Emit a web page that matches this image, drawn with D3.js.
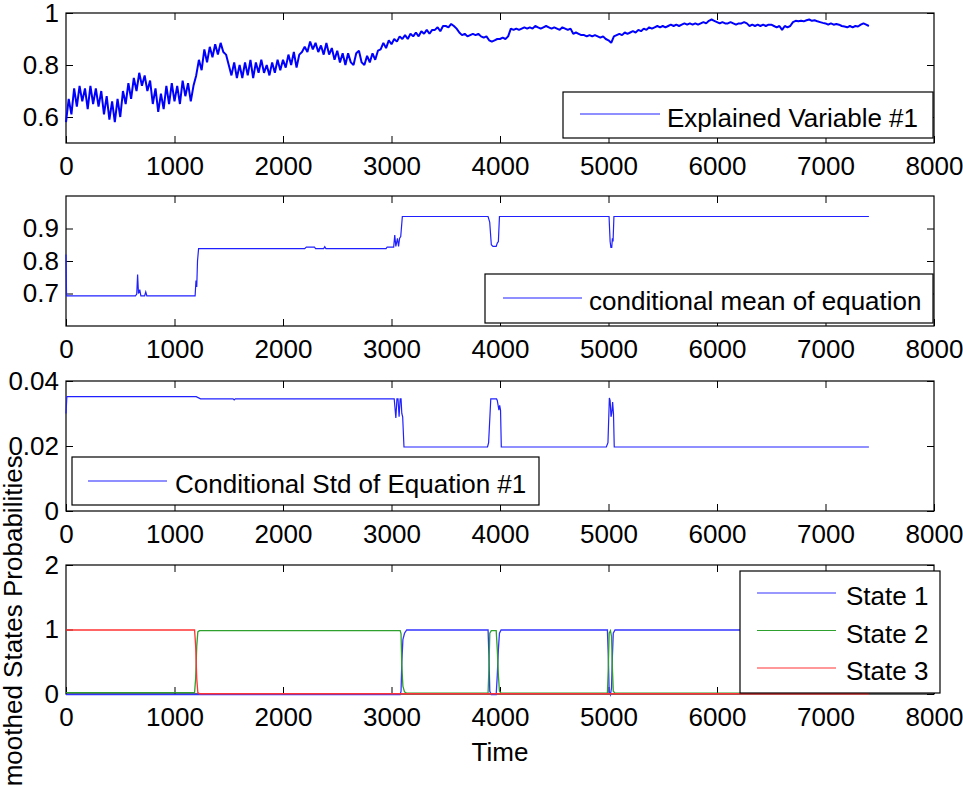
<!DOCTYPE html>
<html>
<head>
<meta charset="utf-8">
<script src="https://cdn.jsdelivr.net/npm/d3@7"></script>
<style>
  body { margin: 0; background: #fff; }
  svg text { font-family: "Liberation Sans", Arial, sans-serif; font-size: 26px; fill: #000; }
</style>
</head>
<body>
<svg id="chart" width="963" height="787"></svg>
<script>
// ---- shared x axis ----
const xTicks = [0, 1000, 2000, 3000, 4000, 5000, 6000, 7000, 8000];

// ---- panel 1: explained variable, sampled every 25 time steps ----
const explainedStep = 25;
const explainedValues = [
  0.58,0.67,0.61,0.71,0.64,0.72,0.66,0.71,0.63,0.72,0.65,0.71,0.64,0.70,0.61,0.68,0.59,0.66,0.58,0.67,
  0.60,0.70,0.65,0.73,0.67,0.75,0.70,0.77,0.72,0.76,0.70,0.74,0.65,0.71,0.62,0.69,0.63,0.72,0.65,0.73,
  0.66,0.72,0.65,0.74,0.68,0.73,0.66,0.72,0.76,0.82,0.78,0.86,0.81,0.87,0.83,0.88,0.84,0.885,0.85,0.84,
  0.80,0.76,0.81,0.75,0.80,0.75,0.81,0.76,0.82,0.75,0.81,0.77,0.82,0.77,0.80,0.76,0.81,0.77,0.82,0.78,
  0.82,0.79,0.84,0.80,0.85,0.79,0.84,0.85,0.87,0.85,0.89,0.86,0.885,0.85,0.875,0.84,0.885,0.84,0.865,0.82,
  0.855,0.81,0.845,0.80,0.845,0.81,0.80,0.845,0.855,0.81,0.80,0.835,0.81,0.845,0.82,0.855,0.86,0.885,0.865,0.895,
  0.88,0.90,0.89,0.91,0.90,0.915,0.90,0.92,0.91,0.925,0.91,0.93,0.92,0.935,0.92,0.935,0.935,0.945,0.93,0.95,
  0.95,0.945,0.958,0.95,0.94,0.925,0.915,0.92,0.91,0.915,0.92,0.915,0.92,0.91,0.905,0.91,0.895,0.89,0.895,0.90,
  0.90,0.905,0.90,0.91,0.94,0.935,0.94,0.935,0.94,0.945,0.94,0.945,0.94,0.95,0.945,0.94,0.945,0.95,0.945,0.94,
  0.945,0.94,0.935,0.945,0.94,0.935,0.94,0.92,0.925,0.92,0.915,0.915,0.91,0.915,0.91,0.915,0.91,0.905,0.91,0.90,
  0.895,0.885,0.91,0.915,0.92,0.915,0.925,0.92,0.925,0.93,0.925,0.935,0.93,0.94,0.935,0.945,0.94,0.945,0.95,0.945,
  0.95,0.945,0.95,0.955,0.95,0.955,0.95,0.955,0.96,0.955,0.96,0.955,0.96,0.955,0.96,0.965,0.96,0.97,0.975,0.97,
  0.965,0.96,0.965,0.96,0.96,0.965,0.96,0.955,0.96,0.96,0.965,0.96,0.95,0.955,0.95,0.955,0.95,0.955,0.95,0.955,
  0.955,0.95,0.945,0.95,0.935,0.95,0.945,0.95,0.965,0.97,0.968,0.97,0.968,0.972,0.975,0.97,0.972,0.968,0.965,0.962,
  0.96,0.955,0.96,0.955,0.958,0.955,0.95,0.948,0.945,0.95,0.945,0.95,0.948,0.955,0.96,0.955,0.95
];

// ---- panel 2: conditional mean ----
const meanTime = [0,5,640,652,660,668,680,690,700,725,735,745,1190,1198,1205,1212,1222,2200,2215,2290,
  2300,2375,2385,2395,2405,2950,2960,3020,3030,3040,3055,3065,3075,3085,3100,3890,3905,3920,3935,3965,
  3975,3985,3995,5005,5015,5022,5030,5036,5042,5050,7400];
const meanValues = [0.82,0.693,0.693,0.698,0.758,0.70,0.712,0.693,0.693,0.693,0.705,0.693,0.693,0.74,0.72,0.80,0.838,0.838,0.843,0.843,
  0.838,0.838,0.844,0.838,0.838,0.838,0.843,0.843,0.88,0.845,0.87,0.845,0.87,0.875,0.937,0.937,0.92,0.85,0.845,0.845,
  0.855,0.86,0.937,0.937,0.86,0.842,0.842,0.87,0.86,0.937,0.937];

// ---- panel 3: conditional standard deviation ----
const stdTime = [0,8,1200,1240,1540,1550,1560,3025,3040,3050,3060,3070,3080,3088,3095,3103,3115,3885,3895,3915,
  3968,3975,3990,3997,4005,4012,4980,4995,5008,5015,5023,5030,5038,5046,5053,7400];
const stdValues = [0.030,0.0352,0.0352,0.0345,0.0345,0.0342,0.0345,0.0345,0.0286,0.0345,0.0345,0.029,0.0345,0.0345,0.030,0.029,0.0197,0.0197,0.021,0.0345,
  0.0345,0.034,0.031,0.0325,0.031,0.0197,0.0197,0.021,0.0348,0.034,0.029,0.030,0.0335,0.030,0.0197,0.0197];

// ---- panel 4: smoothed state probabilities ----
const stateTime = [0,1185,1195,1205,1215,1230,1250,3080,3088,3095,3105,3120,3140,3890,3898,3906,3920,3965,3975,3985,
  3995,4010,4990,4998,5006,5018,5028,5036,5044,5060,7400];
const state1 = [0,0,0,0,0,0,0,0,0.05,0.5,0.85,0.95,1,1,0.6,0.05,0,0,0.3,0.7,
  0.95,1,1,0.6,0.05,0,0.1,0.6,0.95,1,1];
const state2 = [0.03,0.03,0.25,0.75,0.97,0.99,0.99,0.99,0.94,0.45,0.13,0.04,0.02,0.02,0.4,0.95,0.99,0.99,0.7,0.3,
  0.05,0.02,0.02,0.4,0.95,0.99,0.9,0.4,0.05,0.02,0.02];
const state3 = [1,1,0.75,0.25,0.03,0.012,0.012,0.012,0.012,0.012,0.012,0.012,0.012,0.012,0.012,0.012,0.012,0.012,0.012,0.012,
  0.012,0.012,0.012,0.012,0.012,0.012,0.012,0.012,0.012,0.012,0.012];
const stateNames = ["State 1", "State 2", "State 3"];
const stateColors = ["#3333ff", "#2ea02e", "#ff3333"];

// ---- y axes ----
const p1Ticks = [0.6, 0.8, 1], p1Labels = ["0.6", "0.8", "1"];
const p2Ticks = [0.7, 0.8, 0.9], p2Labels = ["0.7", "0.8", "0.9"];
const p3Ticks = [0, 0.02, 0.04], p3Labels = ["0", "0.02", "0.04"];
const p4Ticks = [0, 1, 2], p4Labels = ["0", "1", "2"];

const svg = d3.select("#chart");
const left = 66, right = 934;
const x = d3.scaleLinear().domain([0, 8000]).range([left, right]);

const panels = [
  { top: 13, bottom: 143, domain: [0.5, 1], ticks: p1Ticks, labels: p1Labels },
  { top: 196, bottom: 326, domain: [0.6, 1], ticks: p2Ticks, labels: p2Labels },
  { top: 381, bottom: 511, domain: [0, 0.04], ticks: p3Ticks, labels: p3Labels },
  { top: 565, bottom: 694, domain: [0, 2], ticks: p4Ticks, labels: p4Labels }
];
panels.forEach(p => { p.y = d3.scaleLinear().domain(p.domain).range([p.bottom, p.top]); });

const lineGen = (y) => d3.line().x(d => x(d[0])).y(d => y(d[1]));

// series
const explainedSeries = explainedValues.map((v, i) => [i * explainedStep, v]);
const meanSeries = meanTime.map((t, i) => [t, meanValues[i]]);
const stdSeries = stdTime.map((t, i) => [t, stdValues[i]]);
const stateSeries = [state1, state2, state3].map(s => stateTime.map((t, i) => [t, s[i]]));

function drawAxes(p) {
  const g = svg.append("g");
  const bottomAxis = d3.axisBottom(x).tickValues(xTicks).tickSizeInner(-7).tickSizeOuter(0).tickPadding(14)
    .tickFormat(d3.format("d"));
  g.append("g").attr("transform", `translate(0,${p.bottom})`).call(bottomAxis);
  const topAxis = d3.axisTop(x).tickValues(xTicks.slice(1, -1)).tickSizeInner(-7).tickSizeOuter(0).tickFormat("");
  g.append("g").attr("transform", `translate(0,${p.top})`).call(topAxis);
  const leftAxis = d3.axisLeft(p.y).tickValues(p.ticks).tickSizeInner(-7).tickSizeOuter(0).tickPadding(7)
    .tickFormat((d, i) => p.labels[i]);
  g.append("g").attr("transform", `translate(${left},0)`).call(leftAxis);
  const rightAxis = d3.axisRight(p.y).tickValues(p.ticks).tickSizeInner(-7).tickSizeOuter(0).tickFormat("");
  g.append("g").attr("transform", `translate(${right},0)`).call(rightAxis);
  g.selectAll(".domain").remove();
  g.selectAll(".tick line").attr("stroke", "#000").attr("stroke-width", 1);
  g.selectAll("text").attr("font-size", null).attr("font-family", null);
  g.selectAll("g").attr("font-size", null).attr("font-family", null);
  // axes box
  svg.append("rect")
    .attr("x", left).attr("y", p.top)
    .attr("width", right - left).attr("height", p.bottom - p.top)
    .attr("fill", "none").attr("stroke", "#000").attr("stroke-width", 1.2);
}

function drawLegend(box, entries) {
  const g = svg.append("g");
  g.append("rect").attr("x", box.x).attr("y", box.y).attr("width", box.w).attr("height", box.h)
    .attr("fill", "#fff").attr("stroke", "#000").attr("stroke-width", 1.2);
  entries.forEach(e => {
    g.append("line").attr("x1", box.lx1).attr("x2", box.lx2).attr("y1", e.y).attr("y2", e.y)
      .attr("stroke", e.color).attr("stroke-width", 1.2);
    g.append("text").attr("x", box.tx).attr("y", e.y + e.dy).text(e.label);
  });
}

// panel 1
drawAxes(panels[0]);
svg.append("path").attr("d", lineGen(panels[0].y)(explainedSeries))
  .attr("fill", "none").attr("stroke", "#0000ff").attr("stroke-width", 2).attr("stroke-linejoin", "bevel");
drawLegend({ x: 563, y: 92, w: 370, h: 46, lx1: 580, lx2: 660, tx: 667 },
  [{ y: 114, dy: 13, color: "#2020ff", label: "Explained Variable #1" }]);

// panel 2
drawAxes(panels[1]);
svg.append("path").attr("d", lineGen(panels[1].y)(meanSeries))
  .attr("fill", "none").attr("stroke", "#2020ff").attr("stroke-width", 1.2);
drawLegend({ x: 485, y: 274, w: 448, h: 49, lx1: 503, lx2: 582, tx: 589 },
  [{ y: 298, dy: 12, color: "#2020ff", label: "conditional mean of equation" }]);

// panel 3
drawAxes(panels[2]);
svg.append("path").attr("d", lineGen(panels[2].y)(stdSeries))
  .attr("fill", "none").attr("stroke", "#2020ff").attr("stroke-width", 1.2);
drawLegend({ x: 72, y: 457, w: 467, h: 48, lx1: 88, lx2: 167, tx: 175 },
  [{ y: 481, dy: 12, color: "#2020ff", label: "Conditional Std of Equation #1" }]);

// panel 4 (half-pixel shift keeps the thin probability lines soft rather than hard-edged)
drawAxes(panels[3]);
stateSeries.forEach((s, i) => {
  svg.append("path").attr("d", lineGen(panels[3].y)(s))
    .attr("transform", "translate(0,0.5)")
    .attr("fill", "none").attr("stroke", stateColors[i]).attr("stroke-width", 1.3);
});
drawLegend({ x: 740, y: 571, w: 200, h: 122, lx1: 757, lx2: 836, tx: 846 },
  stateNames.map((n, i) => ({ y: 593 + i * 37.5, dy: 12, color: stateColors[i], label: n })));

// axis titles
svg.append("text").attr("x", 500).attr("y", 761).attr("text-anchor", "middle").text("Time");
svg.append("text").attr("transform", "translate(22,629.5) rotate(-90)").attr("text-anchor", "middle")
  .text("Smoothed States Probabilities");
</script>
</body>
</html>
